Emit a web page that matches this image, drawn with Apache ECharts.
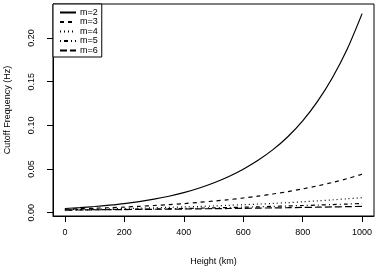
<!DOCTYPE html>
<html><head><meta charset="utf-8">
<script src="https://cdn.jsdelivr.net/npm/echarts@6/dist/echarts.min.js"></script>
<style>html,body{margin:0;padding:0;background:#fff}#c{width:379px;height:271px}</style>
</head><body><div id="c"></div>
<script>
var heights = [0,50,100,150,200,250,300,350,400,450,500,550,600,650,700,750,800,850,900,950,1000];
var m2 = [0.0048,0.0058,0.0071,0.0086,0.0104,0.0127,0.0155,0.0188,0.0229,0.0280,0.0340,0.0412,0.0498,0.0600,0.0722,0.0870,0.1052,0.1275,0.1546,0.1875,0.2280];
var m3 = [0.0040,0.0045,0.0051,0.0057,0.0064,0.0073,0.0082,0.0092,0.0104,0.0118,0.0133,0.0149,0.0168,0.0190,0.0214,0.0241,0.0272,0.0307,0.0346,0.0390,0.0440];
var m4 = [0.0035,0.0038,0.0041,0.0044,0.0048,0.0052,0.0056,0.0061,0.0066,0.0071,0.0077,0.0084,0.0091,0.0098,0.0106,0.0115,0.0125,0.0135,0.0147,0.0159,0.0172];
var m5 = [0.0030,0.0032,0.0034,0.0036,0.0039,0.0041,0.0043,0.0046,0.0049,0.0052,0.0056,0.0059,0.0063,0.0067,0.0072,0.0077,0.0082,0.0087,0.0093,0.0099,0.0105];
var m6 = [0.0030,0.0031,0.0033,0.0034,0.0036,0.0037,0.0039,0.0040,0.0042,0.0044,0.0046,0.0048,0.0050,0.0052,0.0055,0.0057,0.0060,0.0063,0.0066,0.0069,0.0072];
var seriesNames = ['m=2','m=3','m=4','m=5','m=6'];
var xTicks = [0,200,400,600,800,1000];
var yTicks = [0,0.05,0.10,0.15,0.20];

var FONT = '"Liberation Sans", Arial, Helvetica, sans-serif';
var dashes = ['solid',[4,4],[1,3],[1,3,4,3],[7,3]];
var all = [m2,m3,m4,m5,m6];
function pairs(arr){ return heights.map(function(h,i){ return [h, arr[i]]; }); }
var series = all.map(function(arr,k){
  return {
    name: seriesNames[k], type:'line', data: pairs(arr), smooth: 0.3,
    symbol:'none', showSymbol:false, silent:true, animation:false,
    color:'#000', itemStyle:{color:'#000'},
    lineStyle:{color:'#000', width:1.2, type: dashes[k]}
  };
});
var chart = echarts.init(document.getElementById('c'), null, {renderer:'canvas'});
chart.setOption({
  animation:false,
  color:['#000','#000','#000','#000','#000'],
  textStyle:{fontFamily:FONT},
  grid:{left:53, right:5, top:4, bottom:55, show:true, borderColor:'#000', borderWidth:1, backgroundColor:'transparent',
        containLabel:false, outerBoundsMode:'none'},
  legend:{
    orient:'vertical', left:53, top:4, padding:[4,4,2,6],
    borderColor:'#000', borderWidth:1, borderRadius:0, backgroundColor:'#fff',
    itemWidth:16, itemHeight:8, itemGap:0.5,
    itemStyle:{opacity:0},
    textStyle:{fontFamily:FONT, fontSize:9, color:'#000', padding:[0,0,0,-1]},
    data: seriesNames
  },
  xAxis:{
    type:'value', min:-40, max:1040,
    name:'Height (km)', nameLocation:'middle', nameGap:41,
    nameTextStyle:{fontFamily:FONT, fontSize:9, color:'#000'},
    axisLine:{show:true, onZero:false, lineStyle:{color:'#000', width:1}},
    splitLine:{show:false},
    axisTick:{show:true, inside:false, customValues:xTicks, length:6, lineStyle:{color:'#000', width:1}},
    axisLabel:{customValues:xTicks, margin:12, fontFamily:FONT, fontSize:9, color:'#000',
      formatter:function(v){ return String(v); }}
  },
  yAxis:{
    type:'value', min:-0.0038, max:0.239,
    name:'Cutoff Frequency (Hz)', nameLocation:'middle', nameGap:41, nameRotate:90,
    nameTextStyle:{fontFamily:FONT, fontSize:9, color:'#000'},
    axisLine:{show:true, onZero:false, lineStyle:{color:'#000', width:1}},
    splitLine:{show:false},
    axisTick:{show:true, inside:false, customValues:yTicks, length:6, lineStyle:{color:'#000', width:1}},
    axisLabel:{customValues:yTicks, rotate:90, margin:17, fontFamily:FONT, fontSize:9, color:'#000',
      formatter:function(v){ return v.toFixed(2); }}
  },
  series: series
});
</script></body></html>
